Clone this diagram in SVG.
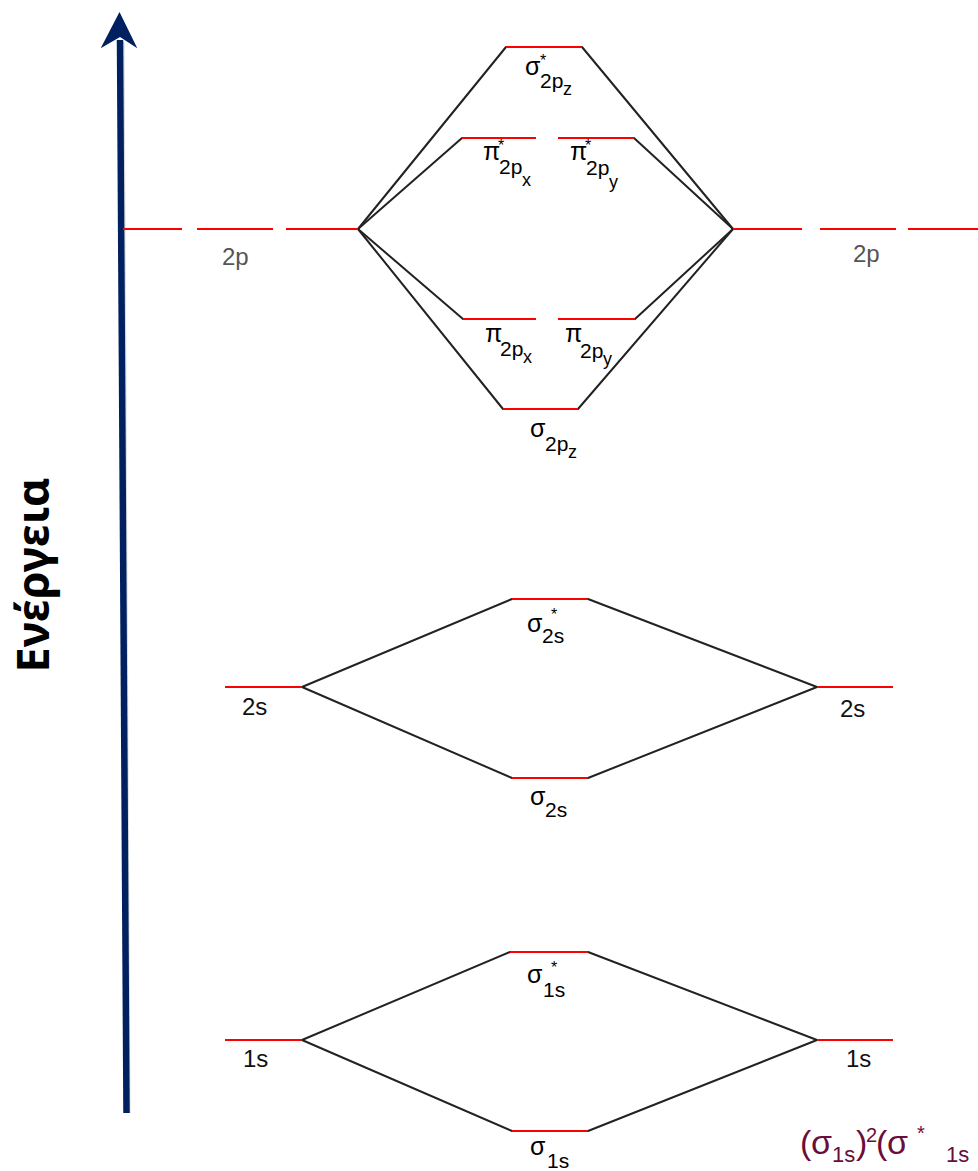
<svg xmlns="http://www.w3.org/2000/svg" width="978" height="1171" viewBox="0 0 978 1171">
<style>
.lvl{stroke:#ff0000;stroke-width:2;fill:none}
.con{stroke:#222;stroke-width:2;fill:none;stroke-linecap:round}
.g{font-family:"Liberation Sans",Arial,sans-serif;fill:#000;font-size:25px}
.s{font-size:21px}
.ss{font-size:18px}
.st{font-size:16px}
.ao{font-family:"Liberation Sans",Arial,sans-serif;fill:#111;font-size:24px}
.grey{fill:#555}
</style>
<rect width="978" height="1171" fill="#fff"/>

<g id="axis">
  <line x1="129" y1="1113" x2="123" y2="42" stroke="#000" stroke-opacity="0.15" stroke-width="3"/>
  <line x1="126.5" y1="1113" x2="120" y2="40" stroke="#002060" stroke-width="6.5"/>
  <polygon points="119.5,12 137.3,48.3 120,37 100.7,48.3" fill="#002060"/>
  <text transform="translate(49,575) rotate(-90)" text-anchor="middle" font-family="'Noto Sans','Open Sans',sans-serif" font-weight="bold" font-size="45" fill="#000">Ενέργεια</text>
</g>

<g id="connectors">
  <line class="con" x1="358" y1="229" x2="506" y2="47"/>
  <line class="con" x1="358" y1="229" x2="462" y2="138"/>
  <line class="con" x1="358" y1="229" x2="463" y2="319"/>
  <line class="con" x1="358" y1="229" x2="503" y2="409"/>
  <line class="con" x1="582" y1="47" x2="733" y2="229"/>
  <line class="con" x1="634" y1="138" x2="733" y2="229"/>
  <line class="con" x1="635" y1="319" x2="733" y2="229"/>
  <line class="con" x1="578" y1="409" x2="733" y2="229"/>
  <line class="con" x1="302" y1="687" x2="512" y2="599"/>
  <line class="con" x1="302" y1="687" x2="512" y2="778"/>
  <line class="con" x1="588" y1="599" x2="817" y2="687"/>
  <line class="con" x1="588" y1="778" x2="817" y2="687"/>
  <line class="con" x1="302" y1="1040" x2="510" y2="952"/>
  <line class="con" x1="302" y1="1040" x2="512" y2="1131"/>
  <line class="con" x1="588" y1="952" x2="817" y2="1040"/>
  <line class="con" x1="588" y1="1131" x2="817" y2="1040"/>
</g>

<g id="ao-2p-left">
  <path class="lvl" d="M123 229H182M197 229H273M286 229H358"/>
  <text class="ao grey" x="222" y="265">2p</text>
</g>
<g id="ao-2p-right">
  <path class="lvl" d="M733 229H802M820 229H896M908 229H978"/>
  <text class="ao grey" x="853" y="262">2p</text>
</g>

<g id="mo-sigma-star-2pz">
  <line class="lvl" x1="506" y1="47" x2="582" y2="47"/>
  <text class="g"><tspan x="525" y="75">σ</tspan><tspan class="st" x="540" y="66">*</tspan><tspan class="s" x="540" y="88">2p</tspan><tspan class="ss" x="563" y="95">z</tspan></text>
</g>
<g id="mo-pi-star-2px">
  <line class="lvl" x1="462" y1="138" x2="536" y2="138"/>
  <text class="g"><tspan x="483" y="160">π</tspan><tspan class="st" x="498" y="151">*</tspan><tspan class="s" x="499" y="174">2p</tspan><tspan class="ss" x="522" y="186">x</tspan></text>
</g>
<g id="mo-pi-star-2py">
  <line class="lvl" x1="558" y1="138" x2="634" y2="138"/>
  <text class="g"><tspan x="570" y="160">π</tspan><tspan class="st" x="585" y="151">*</tspan><tspan class="s" x="586" y="175">2p</tspan><tspan class="ss" x="609" y="188">y</tspan></text>
</g>
<g id="mo-pi-2px">
  <line class="lvl" x1="463" y1="319" x2="536" y2="319"/>
  <text class="g"><tspan x="485" y="342">π</tspan><tspan class="s" x="500" y="356">2p</tspan><tspan class="ss" x="523" y="363">x</tspan></text>
</g>
<g id="mo-pi-2py">
  <line class="lvl" x1="558" y1="319" x2="635" y2="319"/>
  <text class="g"><tspan x="565" y="342">π</tspan><tspan class="s" x="580" y="358">2p</tspan><tspan class="ss" x="603" y="365">y</tspan></text>
</g>
<g id="mo-sigma-2pz">
  <line class="lvl" x1="503" y1="409" x2="578" y2="409"/>
  <text class="g"><tspan x="530" y="437">σ</tspan><tspan class="s" x="545" y="451">2p</tspan><tspan class="ss" x="568" y="458">z</tspan></text>
</g>

<g id="ao-2s-left">
  <line class="lvl" x1="225" y1="687" x2="302" y2="687"/>
  <text class="ao" x="242" y="715">2s</text>
</g>
<g id="ao-2s-right">
  <line class="lvl" x1="817" y1="687" x2="893" y2="687"/>
  <text class="ao" x="840" y="717">2s</text>
</g>
<g id="mo-sigma-star-2s">
  <line class="lvl" x1="512" y1="599" x2="588" y2="599"/>
  <text class="g"><tspan x="527" y="632">σ</tspan><tspan class="st" x="551" y="620">*</tspan><tspan class="s" x="542" y="643">2s</tspan></text>
</g>
<g id="mo-sigma-2s">
  <line class="lvl" x1="512" y1="778" x2="588" y2="778"/>
  <text class="g"><tspan x="530" y="805">σ</tspan><tspan class="s" x="545" y="817">2s</tspan></text>
</g>

<g id="ao-1s-left">
  <line class="lvl" x1="225" y1="1040" x2="302" y2="1040"/>
  <text class="ao" x="243" y="1067">1s</text>
</g>
<g id="ao-1s-right">
  <line class="lvl" x1="817" y1="1040" x2="893" y2="1040"/>
  <text class="ao" x="846" y="1067">1s</text>
</g>
<g id="mo-sigma-star-1s">
  <line class="lvl" x1="510" y1="952" x2="588" y2="952"/>
  <text class="g"><tspan x="527" y="983">σ</tspan><tspan class="st" x="551" y="973">*</tspan><tspan class="s" x="543" y="997">1s</tspan></text>
</g>
<g id="mo-sigma-1s">
  <line class="lvl" x1="512" y1="1131" x2="588" y2="1131"/>
  <text class="g"><tspan x="530" y="1155">σ</tspan><tspan class="s" x="547" y="1168">1s</tspan></text>
</g>

<g id="configuration">
  <text font-family="'Liberation Sans',Arial,sans-serif" fill="#6b0d3b" font-size="34"><tspan x="800" y="1154">(</tspan><tspan x="811" y="1154">σ</tspan><tspan x="832" y="1162" font-size="22">1s</tspan><tspan x="856" y="1154">)</tspan><tspan x="866" y="1142" font-size="20">2</tspan><tspan x="876" y="1154">(</tspan><tspan x="887" y="1154">σ</tspan><tspan x="917" y="1140" font-size="20">*</tspan><tspan x="946" y="1162" font-size="22">1s</tspan></text>
</g>
</svg>
